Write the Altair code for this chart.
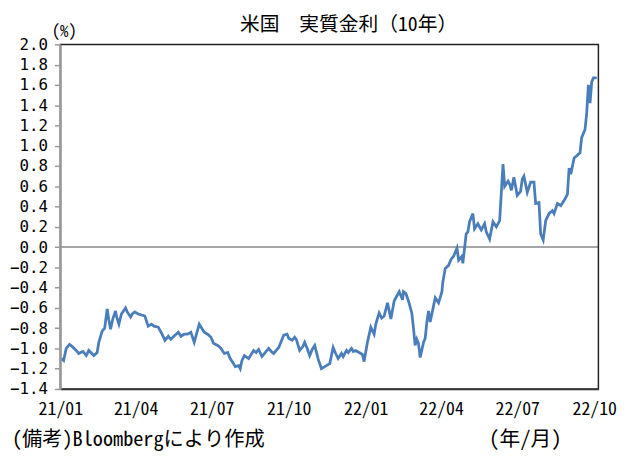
import altair as alt
import pandas as pd

dates = [
    "2021-01-02", "2021-01-05", "2021-01-08", "2021-01-12", "2021-01-15", "2021-01-20",
    "2021-01-23", "2021-01-28", "2021-02-01", "2021-02-04", "2021-02-10", "2021-02-14",
    "2021-02-16", "2021-02-20", "2021-02-23", "2021-02-26", "2021-02-28", "2021-03-02",
    "2021-03-05", "2021-03-08", "2021-03-09", "2021-03-12", "2021-03-15", "2021-03-20",
    "2021-03-22", "2021-03-26", "2021-03-28", "2021-03-31", "2021-04-04", "2021-04-08",
    "2021-04-12", "2021-04-16", "2021-04-20", "2021-04-23", "2021-04-28", "2021-05-02",
    "2021-05-06", "2021-05-10", "2021-05-13", "2021-05-18", "2021-05-22", "2021-05-25",
    "2021-05-29", "2021-06-02", "2021-06-06", "2021-06-10", "2021-06-13", "2021-06-16",
    "2021-06-19", "2021-06-22", "2021-06-26", "2021-06-30", "2021-07-03", "2021-07-08",
    "2021-07-11", "2021-07-16", "2021-07-20", "2021-07-23", "2021-07-27", "2021-07-29",
    "2021-08-02", "2021-08-04", "2021-08-06", "2021-08-09", "2021-08-14", "2021-08-20",
    "2021-08-23", "2021-08-26", "2021-08-30", "2021-09-03", "2021-09-07", "2021-09-10",
    "2021-09-13", "2021-09-16", "2021-09-19", "2021-09-22", "2021-09-25", "2021-09-29",
    "2021-10-01", "2021-10-05", "2021-10-08", "2021-10-10", "2021-10-14", "2021-10-18",
    "2021-10-20", "2021-10-23", "2021-10-26", "2021-10-29", "2021-11-01", "2021-11-05",
    "2021-11-09", "2021-11-13", "2021-11-15", "2021-11-19", "2021-11-23", "2021-11-26",
    "2021-11-29", "2021-12-03", "2021-12-05", "2021-12-09", "2021-12-11", "2021-12-15",
    "2021-12-17", "2021-12-20", "2021-12-24", "2021-12-28", "2021-12-30", "2022-01-03",
    "2022-01-07", "2022-01-11", "2022-01-13", "2022-01-17", "2022-01-20", "2022-01-23",
    "2022-01-27", "2022-01-31", "2022-02-04", "2022-02-06", "2022-02-10", "2022-02-14",
    "2022-02-15", "2022-02-18", "2022-02-21", "2022-02-25", "2022-02-27", "2022-03-01",
    "2022-03-03", "2022-03-05", "2022-03-07", "2022-03-11", "2022-03-13", "2022-03-15",
    "2022-03-17", "2022-03-19", "2022-03-23", "2022-03-25", "2022-03-29", "2022-04-02",
    "2022-04-03", "2022-04-06", "2022-04-10", "2022-04-13", "2022-04-16", "2022-04-20",
    "2022-04-22", "2022-04-26", "2022-04-27", "2022-05-01", "2022-05-03", "2022-05-05",
    "2022-05-09", "2022-05-11", "2022-05-15", "2022-05-19", "2022-05-23", "2022-05-25",
    "2022-05-29", "2022-06-02", "2022-06-06", "2022-06-10", "2022-06-14", "2022-06-16",
    "2022-06-20", "2022-06-22", "2022-06-24", "2022-06-27", "2022-07-01", "2022-07-05",
    "2022-07-07", "2022-07-09", "2022-07-13", "2022-07-17", "2022-07-21", "2022-07-23",
    "2022-07-27", "2022-07-29", "2022-08-01", "2022-08-04", "2022-08-08", "2022-08-12",
    "2022-08-14", "2022-08-18", "2022-08-22", "2022-08-26", "2022-08-30", "2022-09-01",
    "2022-09-03", "2022-09-07", "2022-09-10", "2022-09-14", "2022-09-16", "2022-09-20",
    "2022-09-22", "2022-09-24", "2022-09-26", "2022-09-28", "2022-09-30", "2022-10-04",
]
real_yield = [
    -1.10, -1.12, -1.00, -0.96, -0.98, -1.02,
    -1.05, -1.03, -1.07, -1.02, -1.07, -1.04,
    -0.94, -0.83, -0.80, -0.61, -0.72, -0.81,
    -0.70, -0.63, -0.68, -0.76, -0.66, -0.60,
    -0.64, -0.69, -0.66, -0.64, -0.66, -0.67,
    -0.68, -0.78, -0.76, -0.78, -0.79, -0.85,
    -0.92, -0.88, -0.91, -0.87, -0.84, -0.88,
    -0.86, -0.86, -0.84, -0.94, -0.85, -0.76,
    -0.80, -0.84, -0.86, -0.89, -0.95, -0.97,
    -0.99, -1.05, -1.04, -1.10, -1.15, -1.18,
    -1.17, -1.20, -1.12, -1.07, -1.10, -1.02,
    -1.04, -1.01, -1.08, -1.04, -1.00, -1.03,
    -1.05, -1.02, -0.99, -0.93, -0.87, -0.86,
    -0.90, -0.92, -0.89, -0.91, -1.02, -0.98,
    -0.94, -1.00, -1.07, -1.01, -0.97, -1.10,
    -1.20, -1.18, -1.17, -1.15, -0.99, -1.05,
    -1.10, -1.05, -1.08, -1.02, -1.04, -1.00,
    -1.03, -1.02, -1.04, -1.06, -1.13, -0.94,
    -0.79, -0.86, -0.76, -0.65, -0.70, -0.68,
    -0.55, -0.71, -0.53, -0.50, -0.44, -0.52,
    -0.44, -0.46, -0.53, -0.65, -0.80, -0.97,
    -0.91, -0.95, -1.09, -0.94, -0.90, -0.74,
    -0.63, -0.74, -0.58, -0.50, -0.55, -0.44,
    -0.35, -0.21, -0.18, -0.12, -0.09, -0.01,
    -0.13, -0.09, -0.16, 0.13, 0.15, 0.25,
    0.33, 0.18, 0.23, 0.17, 0.23, 0.15,
    0.08, 0.25, 0.20, 0.26, 0.82, 0.60,
    0.65, 0.62, 0.56, 0.69, 0.51, 0.55,
    0.67, 0.70, 0.54, 0.64, 0.64, 0.43,
    0.44, 0.13, 0.07, 0.26, 0.33, 0.36,
    0.33, 0.43, 0.41, 0.46, 0.52, 0.78,
    0.72, 0.88, 0.90, 0.93, 1.08, 1.16,
    1.32, 1.60, 1.42, 1.63, 1.67, 1.67,
]
y_ticks = [round(-1.4 + 0.2 * i, 1) for i in range(18)]
x_ticks = [(2021, 1), (2021, 4), (2021, 7), (2021, 10), (2022, 1), (2022, 4), (2022, 7), (2022, 10)]

title_text = "米国　実質金利（10年）"
unit_text = "(%)"
note_text = "(備考)Bloombergにより作成"
axis_unit_text = "(年/月)"

FONT = "Noto Sans Mono CJK JP"
NUM_FONT = "DejaVu Sans Mono"  # tighter line box, so the close y labels don't collide
W, H = 545, 349

df = pd.DataFrame({"date": dates, "value": real_yield})

# same y encoding on every layer that uses it, so the shared axis merges cleanly
y_enc = alt.Y(
    "value:Q",
    scale=alt.Scale(domain=[-1.4, 2.0], nice=False, zero=False),
    axis=alt.Axis(values=y_ticks, format=".1f", tickSize=6, tickColor="#999",
                  tickWidth=1.5, domain=True, ticks=True, domainColor="#999",
                  domainWidth=2, labelPadding=7, labelFont=NUM_FONT, labelFontSize=16,
                  title=None, labelOverlap=False, zindex=1),
)
x_enc = alt.X(
    "date:T",
    scale=alt.Scale(type="utc", domain=[alt.DateTime(year=2021, month=1, date=1, utc=True),
                                        alt.DateTime(year=2022, month=10, date=6, utc=True)]),
    axis=alt.Axis(values=[alt.DateTime(year=y, month=m, date=1, utc=True) for y, m in x_ticks],
                  format="%y/%m", ticks=False, domain=True, labelPadding=12,
                  domainColor="#333", domainWidth=1.5, labelFont=FONT, labelFontSize=18,
                  title=None, labelOverlap=False, zindex=1),
)

line = alt.Chart(df).mark_line(color="#4a7ebb", strokeWidth=2.8).encode(x=x_enc, y=y_enc)

zero = alt.Chart(pd.DataFrame({"value": [0.0]})).mark_rule(
    color="#888", strokeWidth=1.5
).encode(y=y_enc)

# plot frame (top and right edges show as black lines in the reference)
frame = alt.Chart(pd.DataFrame({"f": [1]})).mark_rect(
    fill="transparent", stroke="#222", strokeWidth=1.5
).encode(x=alt.value(0), x2=alt.value(W), y=alt.value(0), y2=alt.value(H))


def label(text, x, y, size, align="center"):
    return alt.Chart(pd.DataFrame({"t": [text]})).mark_text(
        font=FONT, fontSize=size, color="black", align=align, baseline="middle"
    ).encode(text="t:N", x=alt.value(x), y=alt.value(y))


chart = alt.layer(
    zero,
    line,
    frame,
    label(title_text, 292, -20, 20),
    label(unit_text, 4, -12, 17),
    label(note_text, -49, 401, 20.5, "left"),
    label(axis_unit_text, 471, 401, 21),
).properties(
    width=W,
    height=H,
    autosize=alt.AutoSizeParams(type="none"),
    padding={"left": 53, "top": 34, "right": 32, "bottom": 62},
).configure_axis(
    labelColor="black", grid=False, labelFlush=False
).configure_view(
    strokeWidth=0
)

chart.save("out.html", embed_options={"renderer": "svg", "actions": False})
